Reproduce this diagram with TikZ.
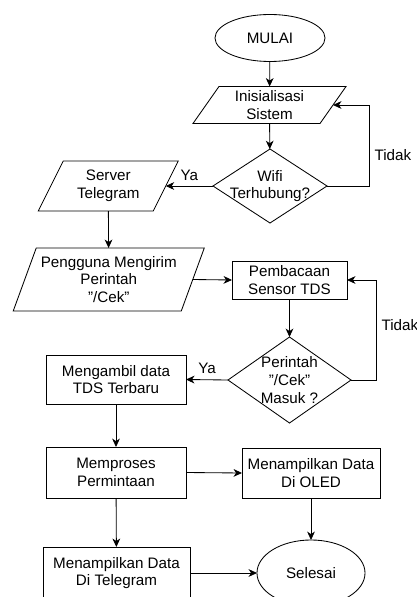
\documentclass[tikz,border=0pt]{standalone}
\usepackage{fontspec}
\setmainfont{Liberation Sans}
\usetikzlibrary{shapes.geometric,arrows.meta}
\newcommand{\parashape}[2]{\draw ([xshift=#2]#1.north west) -- ([xshift=#2]#1.north east) -- ([xshift=-#2]#1.south east) -- ([xshift=-#2]#1.south west) -- cycle;}
\begin{document}
\begin{tikzpicture}[x=0.025cm, y=-0.025cm, line width=0.6pt,
    font=\fontsize{10.8}{12.6}\selectfont,
    every node/.style={align=center, inner sep=0pt, outer sep=0pt},
    terminal/.style={draw, ellipse},
    proses/.style={draw, rectangle},
    para/.style={rectangle},
    keputusan/.style={draw, diamond},
    arr/.style={-{Stealth[length=6pt, width=5.5pt, inset=1.8pt]}}]
    \clip (0,0) rectangle (416,597);
    \node[terminal, minimum width=2.75cm, minimum height=1.175cm] (mulai) at (270,38) {MULAI};
    \node[para, minimum width=3.175cm, minimum height=0.925cm] (init) at (269.5,105) {Inisialisasi\\Sistem};
    \parashape{init}{0.325cm}
    \node[keputusan, minimum width=2.85cm, minimum height=1.85cm, label={center:Wifi\\Terhubung?}] (wifi) at (270,186) {};
    \node[para, minimum width=2.875cm, minimum height=1.25cm] (server) at (108.25,186) {Server\\Telegram};
    \parashape{server}{0.3125cm}
    \node[para, minimum width=4.2cm, minimum height=1.575cm] (pengguna) at (108.75,279.5) {Pengguna Mengirim\\Perintah\\"/Cek"};
    \parashape{pengguna}{0.2875cm}
    \node[proses, minimum width=2.875cm, minimum height=0.95cm] (baca) at (289.5,280) {Pembacaan\\Sensor TDS};
    \node[keputusan, minimum width=3.075cm, minimum height=2.15cm, label={center:Perintah\\"/Cek"\\Masuk ?}] (perintah) at (289.5,380) {};
    \node[proses, minimum width=3.5cm, minimum height=1.225cm] (ambil) at (116,379.5) {Mengambil data\\TDS Terbaru};
    \node[proses, minimum width=3.5cm, minimum height=1.275cm] (proses) at (116,472.5) {Memproses\\Permintaan};
    \node[proses, minimum width=3.45cm, minimum height=1.25cm] (oled) at (311,473) {Menampilkan Data\\Di OLED};
    \node[proses, minimum width=3.675cm, minimum height=1.3cm] (telegram) at (116.5,573) {Menampilkan Data\\Di Telegram};
    \node[terminal, minimum width=2.7cm, minimum height=1.65cm] (selesai) at (311,573) {Selesai};
    \coordinate (t1) at (369,186);
    \coordinate (t2) at (376,380);
    \draw[arr] (mulai) -- (init);
    \draw[arr] (init) -- (wifi);
    \draw[arr] (wifi.east) -- (t1) -- node[pos=0.38, right=4pt] {Tidak} (t1 |- init.east) -- (init.east);
    \draw[arr] (wifi.west) -- node[above=4pt] {Ya} (server.east);
    \draw[arr] (server) -- (pengguna);
    \draw[arr] (pengguna.east) -- (baca.west);
    \draw[arr] (baca) -- (perintah);
    \draw[arr] (perintah.east) -- (t2) -- node[pos=0.55, right=4pt] {Tidak} (t2 |- baca.east) -- (baca.east);
    \draw[arr] (perintah.west) -- node[above=4pt] {Ya} (ambil.east);
    \draw[arr] (ambil) -- (proses);
    \draw[arr] (proses.east) -- (oled.west);
    \draw[arr] (proses) -- (telegram);
    \draw[arr] (oled) -- (selesai);
    \draw[arr] (telegram.east) -- (selesai.west);
\end{tikzpicture}
\end{document}
